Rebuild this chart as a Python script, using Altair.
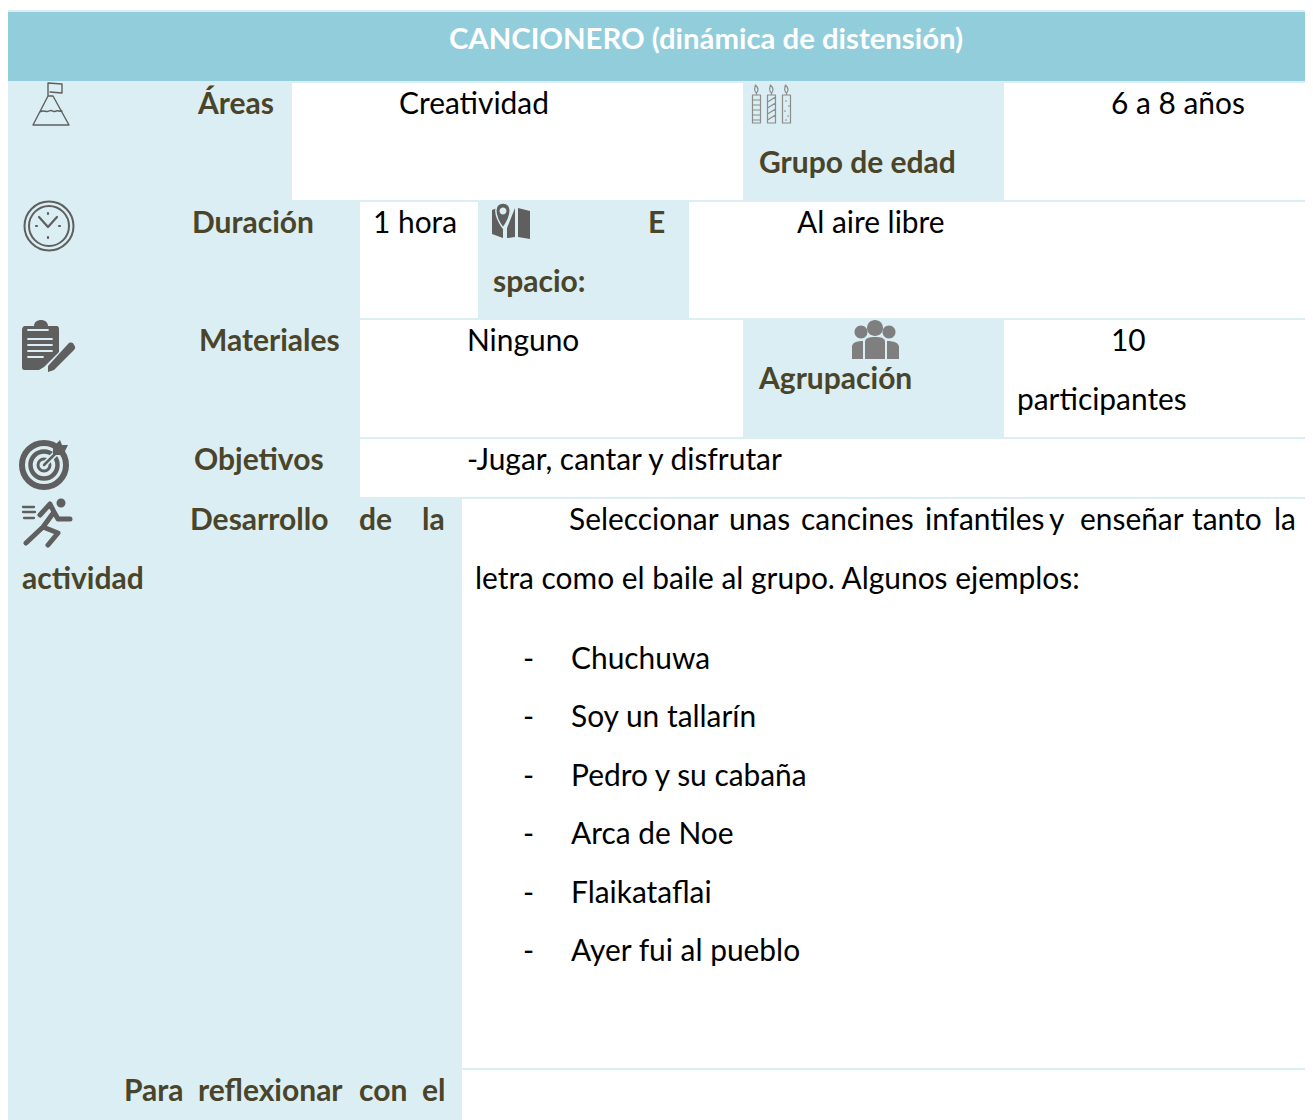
import altair as alt
import pandas as pd

FONT = "Lato"
HEADER = "#92CDDC"; LIGHT = "#DAEEF3"; DARK = "#4A442A"; ICON = "#5F5F5F"; PEOPLE = "#7F7F7F"; CANDLE_C = "#8C8C8C"

# ---- cells ----
cell_fill = [LIGHT,"white",LIGHT,"white",  LIGHT,"white",LIGHT,"white",  LIGHT,"white",LIGHT,"white",  LIGHT,"white",  LIGHT,"white",  LIGHT,"white"]
cell_x0 = [6,292,743,1004,  6,360,478,689,  6,360,743,1004,  6,360,  6,462,  6,462]
cell_x1 = [292,743,1004,1311,  360,478,689,1311,  360,743,1004,1311,  360,1311,  462,1311,  462,1311]
cell_y0 = [83]*4 + [202]*4 + [320]*4 + [439]*2 + [499]*2 + [1070]*2
cell_y1 = [200]*4 + [318]*4 + [437]*4 + [497]*2 + [1068]*2 + [1120]*2

# ---- text ----
title = ["CANCIONERO (dinámica de distensión)"]
heads = ["Áreas","Grupo de edad","Duración","E","spacio:","Materiales","Agrupación","Objetivos",
         "Desarrollo","de","la","actividad","Para","reflexionar","con","el"]
heads_x = [198,759,192,648,493,199,759,194,190,359,422,22,124,198,359,422]
heads_y = [114,173,233,233,292,351,389,470,530,530,530,589,1101,1101,1101,1101]
body = ["Creatividad","6 a 8 años","1 hora","Al aire libre","Ninguno","10","participantes",
        "-Jugar, cantar y disfrutar",
        "Seleccionar","unas","cancines","infantiles","y","enseñar","tanto","la",
        "letra como el baile al grupo. Algunos ejemplos:"]
body_x = [399,1111,373,797,467,1111,1017,467,569,729,801,925,1049,1080,1192,1274,475]
body_y = [114,114,233,233,351,351,410,470,530,530,530,530,530,530,530,530,589]
songs = ["Chuchuwa","Soy un tallarín","Pedro y su cabaña","Arca de Noe","Flaikataflai","Ayer fui al pueblo"]
songs_y = [669,727,786,844,903,961]

X = alt.Scale(domain=[8,1305], range=[0,1297], nice=False, zero=False)
Y = alt.Scale(domain=[8,1120], range=[0,1112], nice=False, zero=False)

def rects(x0,x1,y0,y1,fill):
    d = pd.DataFrame(dict(x0=x0,x1=x1,y0=y0,y1=y1,f=fill))
    return alt.Chart(d).mark_rect(strokeWidth=0).encode(
        x=alt.X("x0:Q",scale=X,axis=None), x2="x1:Q",
        y=alt.Y("y0:Q",scale=Y,axis=None), y2="y1:Q",
        color=alt.Color("f:N",scale=None))

def texts(lab,x,y,color,bold,size,align="left"):
    d = pd.DataFrame(dict(t=lab,x=x,y=y))
    return alt.Chart(d).mark_text(font=FONT,fontSize=size,color=color,align=align,baseline="alphabetic",
        fontWeight="bold" if bold else "normal").encode(
        x=alt.X("x:Q",scale=X,axis=None), y=alt.Y("y:Q",scale=Y,axis=None), text="t:N")

def icon(path,cx,cy,fill=None,stroke=None,sw=1.0):
    kw = dict(shape=path,size=4,opacity=1,filled=fill is not None,strokeCap="round",strokeJoin="round")
    if fill: kw["fill"]=fill
    if stroke:
        kw["stroke"]=stroke; kw["strokeWidth"]=sw
    else:
        kw["strokeWidth"]=0
    d = pd.DataFrame(dict(x=[cx],y=[cy]))
    return alt.Chart(d).mark_point(**kw).encode(
        x=alt.X("x:Q",scale=X,axis=None), y=alt.Y("y:Q",scale=Y,axis=None))

def circ(r):
    return f"M{-r},0A{r},{r} 0 1,0 {r},0A{r},{r} 0 1,0 {-r},0Z"

CANDLE = "M-4,-13L4,-13L4,15L-4,15Z M0,-13L0,-15M0,-15C-3,-17 -2,-20 -1,-23C1,-21 3,-18 0,-15"

layers = [
    rects([6],[1313],[10],[1120],[LIGHT]),
    rects([8],[1311],[12],[81],[HEADER]),
    rects(cell_x0,cell_x1,cell_y0,cell_y1,cell_fill),
    texts(title,[706],[49],"white",True,29.3,"center"),
    texts(heads,heads_x,heads_y,DARK,True,30),
    texts(body,body_x,body_y,"black",False,29.9),
    texts(["-"]*6,[523]*6,songs_y,"black",False,29.9),
    texts(songs,[571]*6,songs_y,"black",False,29.9),
    # mountain
    icon("M-18,21L-3,-8L2,-8L18,21Z M-11,8C-7,5 -5,9 -2,7C1,5 3,9 5,7C7,6 9,8 11,7 M-3,-8L-3,-21L11,-20L11,-11L-1,-12",51,104,stroke=ICON,sw=1.4),
    # clock
    icon(circ(24.5),49,226,stroke=ICON,sw=2),
    icon(circ(20),49,226,stroke=ICON,sw=2),
    icon("M-10,-9L-1,1L8,-9M-1,-13L-1,-12M-1,11L-1,12M-13,0L-12,0M10,0L11,0",49,226,stroke=ICON,sw=2.2),
    # clipboard + pencil
    icon("M-16,-19L-7,-19C-7,-27 7,-27 7,-19L15,-19C18,-19 18,-17 18,-15L18,7L3,22L-2,25L-16,25C-19,25 -19,23 -19,21L-19,-15C-19,-17 -18,-19 -16,-19Z",41,345,fill=ICON),
    icon("M-13,-6L11,-6M-13,0L11,0M-13,6L11,6M-13,12L2,12M-13,-15L7,-15",41,345,stroke=LIGHT,sw=1.8),
    icon("M-13,11L7,-11C9,-13 12,-13 13,-10C15,-8 14,-6 13,-5L-7,15L-13,17Z",61,355,fill=ICON),
    # target
    icon(circ(22),44,465,stroke=ICON,sw=6),
    icon(circ(13.5),44,465,stroke=ICON,sw=4.5),
    icon(circ(6),44,465,stroke=ICON,sw=3),
    icon("M1,-1L24,-24",44,465,stroke=LIGHT,sw=6),
    icon("M0,0L13,-13",44,465,stroke=ICON,sw=2.5),
    icon("M9,-18L16,-25L18,-20L24,-20L19,-10L9,-10Z",44,465,fill=ICON),
    # runner
    icon(circ(4.5),61,503,fill=ICON),
    icon("M-7,-7L3,-18L7,-10L-4,5L-21,21M-4,5L11,11L1,23M7,-10L11,-3L23,-3",47,522,stroke=ICON,sw=5),
    icon("M-24,-15L-13,-15M-24,-10L-12,-10M-23,-4L-13,-4",47,522,stroke=ICON,sw=2.3),
    # map
    icon("M-19,-12L-14,-14L-8,6L-8,16L-19,12Z M-4,6L4,-14L4,15L-4,16Z M7,-14L19,-11L19,17L7,15Z",511,222,fill=ICON),
    icon("M-8,6C-18,-8 -17,-19 -8,-19C1,-19 2,-8 -8,6Z",511,222,fill=ICON,stroke=LIGHT,sw=1.4),
    icon(circ(3.5),503,211,fill=LIGHT),
    # candles
    icon(CANDLE+"M-4,-8L4,-8M-4,-3L4,-3M-4,2L4,2M-4,7L4,7M-4,12L4,12",756.5,108,stroke=CANDLE_C,sw=1.2),
    icon(CANDLE+"M-4,-6L4,-11M-4,0L4,-5M-4,6L4,1M-4,12L4,7",771.5,108,stroke=CANDLE_C,sw=1.2),
    icon(CANDLE+"M-1,-7L0,-7M2,-2L3,-2M-2,3L-1,3M1,8L2,8M-1,12L0,12",786.5,108,stroke=CANDLE_C,sw=1.2),
    # people
    icon(circ(8),875,328,fill=PEOPLE),
    icon(circ(6.5),861,332,fill=PEOPLE),
    icon(circ(6.5),889,332,fill=PEOPLE),
    icon("M-10,2C-10,-2 -6,-3 0,-3C6,-3 10,-2 10,2L10,19L-10,19Z",875,340,fill=PEOPLE),
    icon("M-23,19L-23,7C-23,3 -19,1 -12,1L-12,19Z M12,1C19,1 24,3 24,7L24,19L12,19Z",875,340,fill=PEOPLE),
]

chart = alt.layer(*layers).properties(width=1297,height=1112,padding=0,
    autosize=alt.AutoSizeParams(type="none")).configure_view(stroke=None)
chart.save("out.html", embed_options={"renderer": "svg", "actions": False})
